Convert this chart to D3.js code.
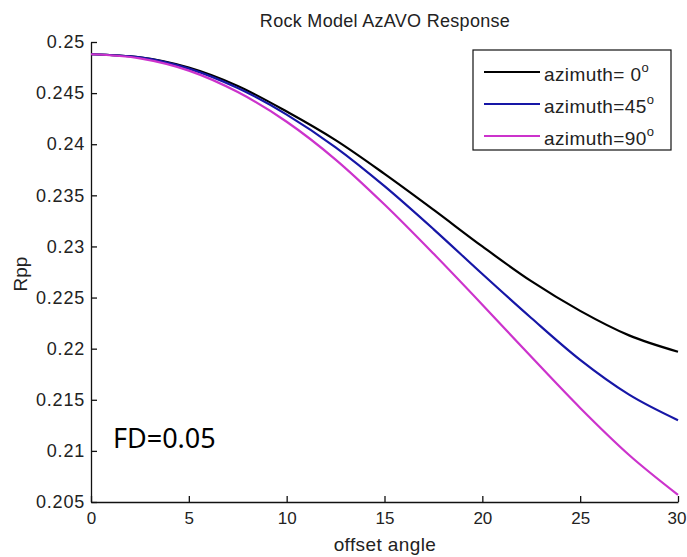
<!DOCTYPE html>
<html>
<head>
<meta charset="utf-8">
<script src="https://cdn.jsdelivr.net/npm/d3@7"></script>
<style>
  html, body { margin: 0; padding: 0; background: #fff; }
  svg text { font-family: "Liberation Sans", Arial, sans-serif; fill: #222; }
</style>
</head>
<body>
<svg id="chart" width="687" height="557"></svg>
<script>
// offset angle samples (degrees)
const angles = [0, 2.5, 5, 7.5, 10, 12.5, 15, 17.5, 20, 22.5, 25, 27.5, 30]
// Rpp for each azimuth
const rppAz0 = [0.2488, 0.2485, 0.2475, 0.2457, 0.2432, 0.2404, 0.2371, 0.2336, 0.2300, 0.2266, 0.2237, 0.2213, 0.2197]
const rppAz45 = [0.2488, 0.2485, 0.2474, 0.2455, 0.2429, 0.2397, 0.2359, 0.2317, 0.2273, 0.2230, 0.2189, 0.2155, 0.2130]
const rppAz90 = [0.2488, 0.2484, 0.2472, 0.2451, 0.2422, 0.2385, 0.2341, 0.2293, 0.2243, 0.2192, 0.2142, 0.2096, 0.2057]
const seriesNames = ['azimuth= 0', 'azimuth=45', 'azimuth=90']
const xTicks = [0, 5, 10, 15, 20, 25, 30]
const yTicks = [0.205, 0.21, 0.215, 0.22, 0.225, 0.23, 0.235, 0.24, 0.245, 0.25]

const colors = ['#000000', '#1616a6', '#cc33cc']
const series = [rppAz0, rppAz45, rppAz90]

const svg = d3.select('#chart')
const plot = {left: 91, right: 678, top: 42, bottom: 502}

const x = d3.scaleLinear().domain([0, 30]).range([plot.left, plot.right])
const y = d3.scaleLinear().domain([0.205, 0.25]).range([plot.bottom, plot.top])

// title and axis labels
svg.append('text')
  .attr('x', 385).attr('y', 27)
  .attr('text-anchor', 'middle')
  .style('font-size', '18px')
  .style('letter-spacing', '0.3px')
  .text('Rock Model AzAVO Response')

svg.append('text')
  .attr('x', 385).attr('y', 551)
  .attr('text-anchor', 'middle')
  .style('font-size', '19px')
  .style('letter-spacing', '0.4px')
  .text('offset angle')

svg.append('text')
  .attr('transform', 'translate(27, 274) rotate(-90)')
  .attr('text-anchor', 'middle')
  .style('font-size', '19px')
  .text('Rpp')

// axes, ticks pointing inward like matlab
const fmt = (d) => String(+d.toFixed(3))

const gx = svg.append('g')
  .attr('class', 'axis axis--x')
  .attr('transform', `translate(0, ${plot.bottom})`)
  .call(d3.axisBottom(x).tickValues(xTicks).tickSize(-6).tickPadding(10).tickSizeOuter(0))
gx.selectAll('text').style('font-size', '17px').attr('dy', '0.71em')
// keep the last label inside the window
gx.selectAll('.tick').filter((d) => d === 30).select('text').attr('x', -1.5)

const gy = svg.append('g')
  .attr('class', 'axis axis--y')
  .attr('transform', `translate(${plot.left}, 0)`)
  .call(d3.axisLeft(y).tickValues(yTicks).tickFormat(fmt).tickSize(-6).tickPadding(6).tickSizeOuter(0))
gy.selectAll('text').style('font-size', '18px').style('letter-spacing', '0.8px')

svg.selectAll('.axis path, .axis line').attr('stroke', '#111').attr('stroke-width', 1.3)
svg.selectAll('.axis text').attr('fill', '#333').style('font-family', '"Liberation Sans", Arial, sans-serif')

// curves
const line = d3.line()
  .x((d, i) => x(angles[i]))
  .y((d) => y(d))
  .curve(d3.curveMonotoneX)

svg.append('g').selectAll('path.curve')
  .data(series)
  .enter()
  .append('path')
  .attr('class', 'curve')
  .attr('fill', 'none')
  .attr('stroke', (d, i) => colors[i])
  .attr('stroke-width', 2.2)
  .attr('d', line)

// legend
const lg = svg.append('g').attr('transform', 'translate(473, 50)')
lg.append('rect')
  .attr('width', 198).attr('height', 100)
  .attr('fill', '#fff').attr('stroke', '#111').attr('stroke-width', 1.2)

const rows = lg.selectAll('g.row')
  .data(seriesNames)
  .enter()
  .append('g')
  .attr('class', 'row')
  .attr('transform', (d, i) => `translate(0, ${22 + i * 32})`)

rows.append('line')
  .attr('x1', 11).attr('x2', 67)
  .attr('stroke', (d, i) => colors[i])
  .attr('stroke-width', 2.2)

const lt = rows.append('text')
  .attr('x', 71).attr('y', 9)
  .style('font-size', '19px')
  .style('letter-spacing', '0.4px')
lt.append('tspan').text((d) => d)
lt.append('tspan').attr('dy', -9).style('font-size', '13px').text('o')

// annotation
svg.append('text')
  .attr('x', 113).attr('y', 448)
  .style('font-family', '"Noto Sans", "Open Sans", sans-serif')
  .style('font-size', '27px')
  .style('fill', '#000')
  .text('FD=0.05')
</script>
</body>
</html>
